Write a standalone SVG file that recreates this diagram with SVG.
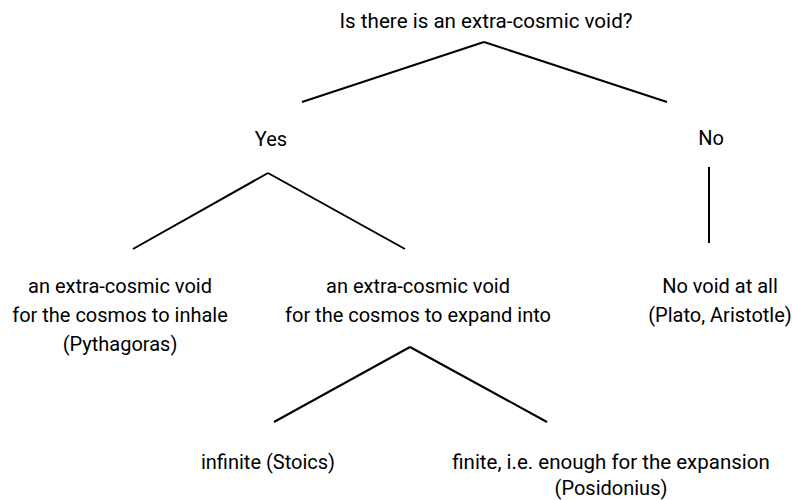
<svg xmlns="http://www.w3.org/2000/svg" width="796" height="500" viewBox="0 0 796 500">
<style>
text{font-family:Roboto,"Liberation Sans",sans-serif;font-size:20px;fill:#000;text-anchor:middle}
.c line{stroke:#000;stroke-width:2;stroke-linecap:butt}
</style>
<rect width="796" height="500" fill="#fff"/>
<g class="c" id="connectors">
<line x1="484" y1="42" x2="302" y2="102"/>
<line x1="484" y1="42" x2="667" y2="102"/>
<line x1="268" y1="173" x2="133" y2="249"/>
<line x1="268" y1="173" x2="405" y2="249"/>
<line x1="709" y1="167" x2="709" y2="243"/>
<line x1="410" y1="347" x2="274" y2="422"/>
<line x1="410" y1="347" x2="547" y2="422"/>
</g>
<g id="q"><text x="486" y="28" style="font-size:20.6px">Is there is an extra-cosmic void?</text></g>
<g id="yes"><text x="271" y="146">Yes</text></g>
<g id="no"><text x="711" y="145">No</text></g>
<g id="inhale"><text x="120" y="293">an extra-cosmic void</text><text x="120" y="322">for the cosmos to inhale</text><text x="120" y="351">(Pythagoras)</text></g>
<g id="expand"><text x="418" y="293">an extra-cosmic void</text><text x="418" y="322">for the cosmos to expand into</text></g>
<g id="novoid"><text x="720" y="293">No void at all</text><text x="720" y="322">(Plato, Aristotle)</text></g>
<g id="infinite"><text x="268" y="469">infinite (Stoics)</text></g>
<g id="finite"><text x="611" y="469" style="font-size:20.5px">finite, i.e. enough for the expansion</text><text x="611" y="495">(Posidonius)</text></g>
</svg>
